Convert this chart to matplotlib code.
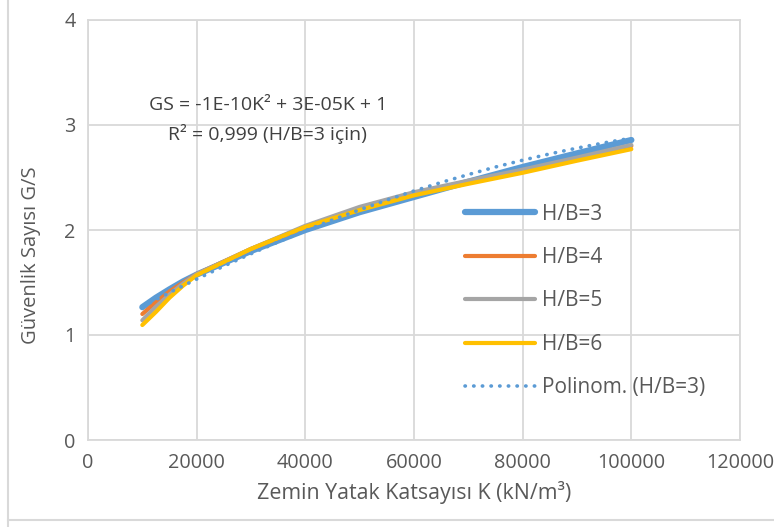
import numpy as np
import matplotlib.pyplot as plt
from matplotlib.lines import Line2D

plt.rcParams['font.family'] = ['Open Sans', 'DejaVu Sans']

# soil reaction modulus K (kN/m3)
k_values = [10000, 12500, 15000, 17500, 20000, 30000, 40000, 50000, 60000, 70000, 80000, 90000, 100000]

# safety factor for each H/B ratio
gs_hb3 = [1.265, 1.355, 1.435, 1.51, 1.575, 1.80, 2.00, 2.17, 2.315, 2.46, 2.60, 2.73, 2.857]
gs_hb4 = [1.20, 1.31, 1.415, 1.50, 1.58, 1.82, 2.03, 2.20, 2.35, 2.455, 2.56, 2.68, 2.80]
gs_hb5 = [1.14, 1.27, 1.385, 1.49, 1.58, 1.82, 2.04, 2.22, 2.36, 2.47, 2.575, 2.69, 2.81]
gs_hb6 = [1.095, 1.22, 1.355, 1.47, 1.57, 1.82, 2.03, 2.19, 2.33, 2.44, 2.545, 2.66, 2.77]

# polynomial trend line of H/B=3
trend_k = [10000, 15000, 20000, 25000, 30000, 35000, 40000, 45000, 50000, 55000,
           60000, 65000, 70000, 75000, 80000, 85000, 90000, 95000, 100000]
trend_gs = [1.270, 1.404, 1.532, 1.656, 1.774, 1.886, 1.993, 2.096, 2.193, 2.285,
            2.372, 2.453, 2.528, 2.600, 2.665, 2.725, 2.780, 2.830, 2.875]

series_labels = ['H/B=3', 'H/B=4', 'H/B=5', 'H/B=6']
series_colors = ['#5B9BD5', '#ED7D31', '#A5A5A5', '#FFC000']
series_widths = [4.5, 3.0, 3.0, 3.0]

x_ticks = [0, 20000, 40000, 60000, 80000, 100000, 120000]
y_ticks = [0, 1, 2, 3, 4]

text_color = '#595959'

fig = plt.figure(figsize=(7.74, 5.27), dpi=100)
ax = fig.add_axes([88 / 774, 87 / 527, 652 / 774, 420 / 527])

all_series = [gs_hb3, gs_hb4, gs_hb5, gs_hb6]
for vals, lab, col, lw in zip(all_series, series_labels, series_colors, series_widths):
    ax.plot(k_values, vals, color=col, lw=lw, label=lab, solid_capstyle='round',
            solid_joinstyle='round', zorder=3)

ax.plot(trend_k, trend_gs, color='#5B9BD5', lw=2.6, linestyle=(0, (0.1, 2.3)),
        dash_capstyle='round', label='Polinom. (H/B=3)', zorder=4)

ax.set_xlim(0, 120000)
ax.set_ylim(0, 4)
ax.set_xticks(x_ticks)
ax.set_yticks(y_ticks)
ax.grid(True, color='#d9d9d9', lw=1.3)
ax.set_axisbelow(True)
for sp in ax.spines.values():
    sp.set_color('#d9d9d9')
    sp.set_linewidth(1.3)
ax.tick_params(length=0, labelsize=14.3, labelcolor=text_color, pad=9)

ax.set_xlabel('Zemin Yatak Katsayısı K (kN/m³)', fontsize=15.4, color=text_color, labelpad=6)
ax.set_ylabel('Güvenlik Sayısı G/S', fontsize=14.5, color=text_color)
ax.yaxis.set_label_coords(-0.072, 0.44)

ax.text(33100, 3.19, 'GS = -1E-10K² + 3E-05K + 1', ha='center', va='center',
        fontsize=14, color='#404040')
ax.text(33100, 2.915, 'R² = 0,999 (H/B=3 için)', ha='center', va='center',
        fontsize=14, color='#404040')

ax.legend(loc='center left', bbox_to_anchor=(465 / 774, 226 / 527), bbox_transform=fig.transFigure,
          frameon=False, fontsize=15, labelcolor=text_color, handlelength=3.37,
          handletextpad=0.35, labelspacing=1.08, borderpad=0, borderaxespad=0)

# outer chart border
fig.add_artist(Line2D([8 / 774, 8 / 774], [0, 1], transform=fig.transFigure, color='#d9d9d9', lw=1.5))
fig.add_artist(Line2D([8 / 774, 1], [7 / 527, 7 / 527], transform=fig.transFigure, color='#d9d9d9', lw=1.5))

fig.savefig('out.png', dpi=100)
